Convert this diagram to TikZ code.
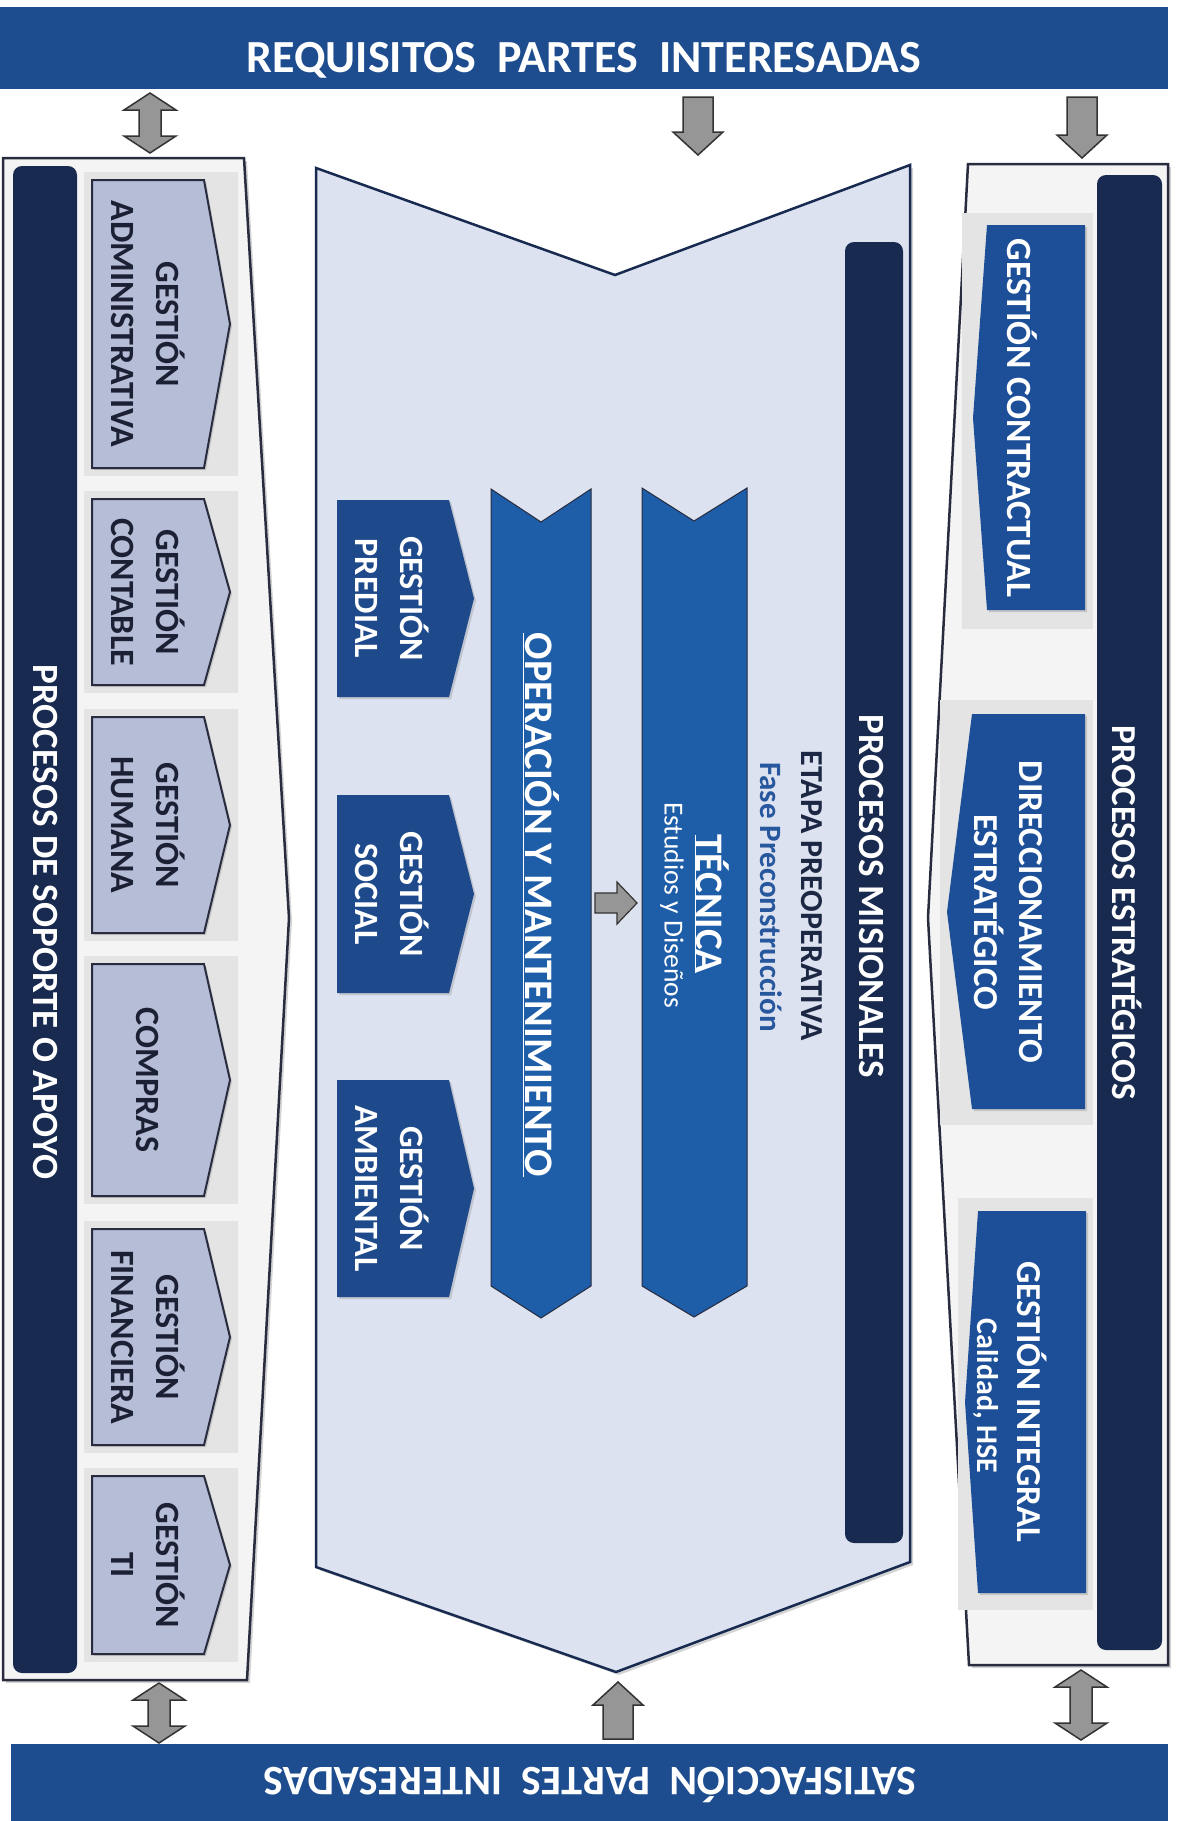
\documentclass[tikz,border=0pt]{standalone}
\usepackage{fontspec}
\setmainfont{Carlito}
\usetikzlibrary{shadows}

\definecolor{bannerblue}{RGB}{29,76,143}
\definecolor{navy}{RGB}{24,42,80}
\definecolor{panelblue}{RGB}{221,226,240}
\definecolor{bandblue}{RGB}{30,93,168}
\definecolor{boxblue}{RGB}{30,74,140}
\definecolor{stratblue}{RGB}{29,79,152}
\definecolor{supportgrey}{RGB}{182,189,214}
\definecolor{supportink}{RGB}{28,32,52}
\definecolor{edgedark}{RGB}{40,44,62}
\definecolor{arrowgrey}{RGB}{150,150,150}
\definecolor{panelgrey}{RGB}{244,244,244}
\definecolor{shade}{RGB}{228,228,228}
\definecolor{etapaink}{RGB}{27,39,67}
\definecolor{faseink}{RGB}{39,87,156}

\tikzset{
  banner/.style={fill=bannerblue},
  bannertext/.style={text=white, anchor=base, font=\fontsize{46}{50}\selectfont\bfseries},
  panel/.style={fill=panelgrey, draw=edgedark, line width=2.5pt,
    drop shadow={shadow xshift=3pt, shadow yshift=-3pt, opacity=.35}},
  navybar/.style={fill=navy, rounded corners=9pt},
  bartext/.style={text=white, rotate=-90, font=\fontsize{37}{40}\selectfont\bfseries},
  backdrop/.style={fill=shade},
  supportbox/.style={fill=supportgrey, draw=edgedark, line width=2pt,
    drop shadow={shadow xshift=2pt, shadow yshift=-2pt, opacity=.3}},
  supporttext/.style={text=supportink, rotate=-90, align=center, font=\fontsize{34}{45}\selectfont\bfseries},
  bluebox/.style={fill=boxblue, drop shadow={shadow xshift=2pt, shadow yshift=-2pt, opacity=.3}},
  stratbox/.style={fill=stratblue, drop shadow={shadow xshift=2pt, shadow yshift=-2pt, opacity=.3}},
  boxtext/.style={text=white, rotate=-90, align=center, font=\fontsize{34}{45}\selectfont\bfseries},
  band/.style={fill=bandblue, draw=edgedark, line width=1pt},
  blockarrow/.style={fill=arrowgrey, draw=black!80, line width=1.5pt, line join=miter},
  pics/downarrow/.style={code={
    \draw[blockarrow] (-15,0) -- (15,0) -- (15,{#1-23}) -- (25,{#1-23}) -- (0,#1)
      -- (-25,{#1-23}) -- (-15,{#1-23}) -- cycle;
  }},
  pics/dblarrow/.style={code={
    \draw[blockarrow] (0,0) -- (26,17) -- (11,17) -- (11,{#1-17}) -- (26,{#1-17}) -- (0,#1)
      -- (-26,{#1-17}) -- (-11,{#1-17}) -- (-11,17) -- (-26,17) -- cycle;
  }},
}

\begin{document}
\begin{tikzpicture}[x=1pt, y=-1pt]
    \useasboundingbox (0,0) rectangle (1178,1821);

    % banners
    \fill[banner] (0,7) rectangle (1168,89);
    \node[bannertext] (req) at (584,72) {REQUISITOS\ \ PARTES\ \ INTERESADAS};
    \fill[banner] (11,1744) rectangle (1168,1821);
    \node[bannertext, rotate=180, font=\fontsize{42}{46}\selectfont\bfseries] (sat) at (590,1767) {SATISFACCIÓN\ \ PARTES\ \ INTERESADAS};

    % arrows
    \pic at (150,93) {dblarrow=60};
    \pic at (698,97) {downarrow=58};
    \pic at (1082,97) {downarrow=61};
    \pic at (159,1683) {dblarrow=60};
    \pic[rotate=180] at (618,1739) {downarrow=57};
    \pic at (1081,1670) {dblarrow=70};

    % support processes
    \draw[panel] (3,158) -- (244,158) -- (289,918) -- (247,1680) -- (3,1680) -- cycle;
    \fill[navybar] (13,166) rectangle (77,1673);
    \node[bartext] (sop) at (46,922) {PROCESOS DE SOPORTE O APOYO};
    \foreach \ya/\yb/\name/\txt in {180/468/adm/{GESTIÓN\\ADMINISTRATIVA},
        499/685/cont/{GESTIÓN\\CONTABLE}, 717/933/hum/{GESTIÓN\\HUMANA},
        964/1196/comp/{COMPRAS}, 1229/1445/fin/{GESTIÓN\\FINANCIERA},
        1476/1654/ti/{GESTIÓN\\TI}} {
      \fill[backdrop] (84,\ya-8) rectangle (238,\yb+8);
      \draw[supportbox] (92,\ya) -- (204,\ya) -- (230,{(\ya+\yb)/2}) -- (204,\yb) -- (92,\yb) -- cycle;
      \node[supporttext] (\name) at (148,{(\ya+\yb)/2}) {\txt};
    }

    % mission processes
    \draw[panel, fill=panelblue, draw=navy] (316,168) -- (615,275) -- (910,165) -- (910,1562)
      -- (616,1672) -- (316,1567) -- cycle;
    \fill[navybar] (845,242) rectangle (903,1543);
    \node[bartext] (mis) at (871,896) {PROCESOS MISIONALES};
    \node[rotate=-90, text=etapaink, font=\fontsize{32}{36}\selectfont\bfseries] (etapa) at (812,896) {ETAPA PREOPERATIVA};
    \node[rotate=-90, text=faseink, font=\fontsize{31}{36}\selectfont\bfseries] (fase) at (771,897) {Fase Preconstrucción};

    \draw[band] (642,488) -- (694,521) -- (747,488) -- (747,1286) -- (694,1317) -- (642,1286) -- cycle;
    \draw[band] (491,489) -- (541,522) -- (591,489) -- (591,1286) -- (541,1318) -- (491,1286) -- cycle;
    \node[rotate=-90, text=white, font=\fontsize{39}{42}\selectfont\bfseries] (tec) at (712,904) {\underline{TÉCNICA}};
    \node[rotate=-90, text=white, font=\fontsize{27.5}{30}\selectfont] (estud) at (672,905) {Estudios y Diseños};
    \node[rotate=-90, text=white, font=\fontsize{40.5}{44}\selectfont\bfseries] (oper) at (541,905) {\underline{OPERACIÓN Y MANTENIMIENTO}};
    \draw[blockarrow, line width=1.2pt] (595,893) -- (617,893) -- (617,882) -- (637,903) -- (617,924)
      -- (617,913) -- (595,913) -- cycle;

    \foreach \ya/\yb/\name/\txt in {500/697/pred/{GESTIÓN\\PREDIAL},
        795/993/soc/{GESTIÓN\\SOCIAL}, 1080/1297/amb/{GESTIÓN\\AMBIENTAL}} {
      \fill[bluebox] (337,\ya) -- (449,\ya) -- (474,{(\ya+\yb)/2}) -- (449,\yb) -- (337,\yb) -- cycle;
      \node[boxtext] (\name) at (392,{(\ya+\yb)/2}) {\txt};
    }

    % strategic processes
    \draw[panel] (968,164) -- (1168,164) -- (1168,1665) -- (969,1665) -- (928,918) -- cycle;
    \fill[navybar] (1097,175) rectangle (1162,1650);
    \node[bartext, font=\fontsize{35}{40}\selectfont\bfseries] (estr) at (1127,913) {PROCESOS ESTRATÉGICOS};
    \fill[backdrop] (962,213) rectangle (1093,629);
    \fill[backdrop] (940,700) rectangle (1093,1125);
    \fill[backdrop] (958,1198) rectangle (1093,1610);
    \fill[stratbox] (987,225) -- (1085,225) -- (1085,610) -- (987,610) -- (973,418) -- cycle;
    \fill[stratbox] (972,714) -- (1085,714) -- (1085,1109) -- (972,1109) -- (947,912) -- cycle;
    \fill[stratbox] (978,1211) -- (1086,1211) -- (1086,1593) -- (978,1593) -- (965,1402) -- cycle;
    \node[boxtext, font=\fontsize{35.5}{40}\selectfont\bfseries] (contr) at (1022,418) {GESTIÓN CONTRACTUAL};
    \node[boxtext, font=\fontsize{35}{45}\selectfont\bfseries] (dir) at (1008,912) {DIRECCIONAMIENTO\\ESTRATÉGICO};
    \node[boxtext, font=\fontsize{35}{40}\selectfont\bfseries] (integ) at (1032,1402) {GESTIÓN INTEGRAL};
    \node[boxtext, font=\fontsize{30}{34}\selectfont\bfseries] (cal) at (986,1396) {Calidad, HSE};

\end{tikzpicture}
\end{document}
